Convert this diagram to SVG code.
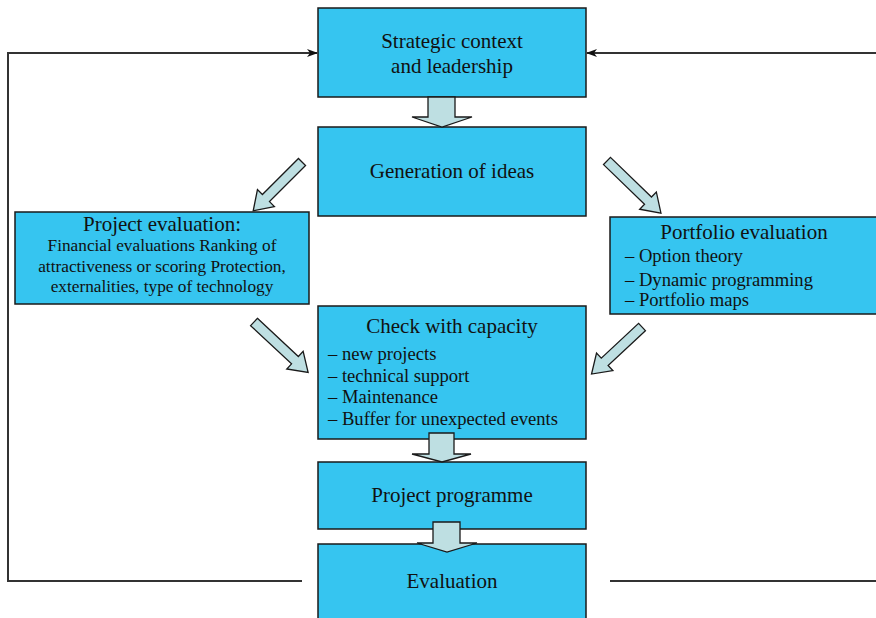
<svg xmlns="http://www.w3.org/2000/svg" width="876" height="618" viewBox="0 0 876 618">
<style>
.box{fill:#36C5F0;stroke:#1a1a1a;stroke-width:1.5}
.blk{fill:#BEDFE2;stroke:#1a1a1a;stroke-width:1.3;stroke-linejoin:miter}
.line{fill:none;stroke:#333;stroke-width:2}
text{font-family:"Liberation Serif","Times New Roman",serif;fill:#111}
.t{font-size:21px;text-anchor:middle}
.s{font-size:17.3px;text-anchor:middle}
.i{font-size:18.6px}
</style>
<defs>
<marker id="ah" markerWidth="11" markerHeight="8" refX="10" refY="4" orient="auto" markerUnits="userSpaceOnUse">
<path d="M0,0 L11,4 L0,8 L3,4 Z" fill="#111"/>
</marker>
</defs>
<g id="connectors">
<polyline class="line" points="302,581 8,581 8,53 317,53" marker-end="url(#ah)"/>
<polyline class="line" points="610,581 876,581"/>
<polyline class="line" points="876,53 587,53" marker-end="url(#ah)"/>
</g>
<g id="strategic">
<rect class="box" x="318" y="8" width="268" height="89"/>
<text class="t" x="452" y="48">Strategic context</text>
<text class="t" x="452" y="73">and leadership</text>
</g>
<g id="generation">
<rect class="box" x="318" y="127" width="268" height="89"/>
<text class="t" x="452" y="178">Generation of ideas</text>
</g>
<g id="project-evaluation">
<rect class="box" x="15" y="212" width="294" height="92"/>
<text class="t" x="162" y="231">Project evaluation:</text>
<text class="s" x="162" y="251">Financial evaluations Ranking of</text>
<text class="s" x="162" y="272">attractiveness or scoring Protection,</text>
<text class="s" x="162" y="292">externalities, type of technology</text>
</g>
<g id="portfolio-evaluation">
<rect class="box" x="610" y="217" width="270" height="97"/>
<text class="t" x="744" y="239">Portfolio evaluation</text>
<text class="i" x="625" y="262">– Option theory</text>
<text class="i" x="625" y="286">– Dynamic programming</text>
<text class="i" x="625" y="306">– Portfolio maps</text>
</g>
<g id="check-capacity">
<rect class="box" x="318" y="306" width="268" height="133"/>
<text class="t" x="452" y="333">Check with capacity</text>
<text class="i" x="328" y="360">– new projects</text>
<text class="i" x="328" y="382">– technical support</text>
<text class="i" x="328" y="403">– Maintenance</text>
<text class="i" x="328" y="425">– Buffer for unexpected events</text>
</g>
<g id="project-programme">
<rect class="box" x="318" y="462" width="268" height="67"/>
<text class="t" x="452" y="502">Project programme</text>
</g>
<g id="evaluation">
<rect class="box" x="318" y="544" width="268" height="80"/>
<text class="t" x="452" y="588">Evaluation</text>
</g>
<g id="block-arrows">
<polygon class="blk" points="428,97 455,97 455,117 472,117 442,127 412,117 428,117"/>
<polygon class="blk" points="429,433 454,433 454,454 471,454 442,462 412,454 429,454"/>
<polygon class="blk" points="433,522 460,522 460,543 477,543 447,552 417,543 433,543"/>
<polygon class="blk" transform="translate(302,162) rotate(135)" points="0,-5 51,-5 51,-12 69,0 51,12 51,5 0,5"/>
<polygon class="blk" transform="translate(607,161) rotate(44)" points="0,-5 57,-5 57,-12 75,0 57,12 57,5 0,5"/>
<polygon class="blk" transform="translate(254,322) rotate(43)" points="0,-5 56,-5 56,-12 74,0 56,12 56,5 0,5"/>
<polygon class="blk" transform="translate(642,327) rotate(137)" points="0,-5 51,-5 51,-12 69,0 51,12 51,5 0,5"/>
</g>
</svg>
